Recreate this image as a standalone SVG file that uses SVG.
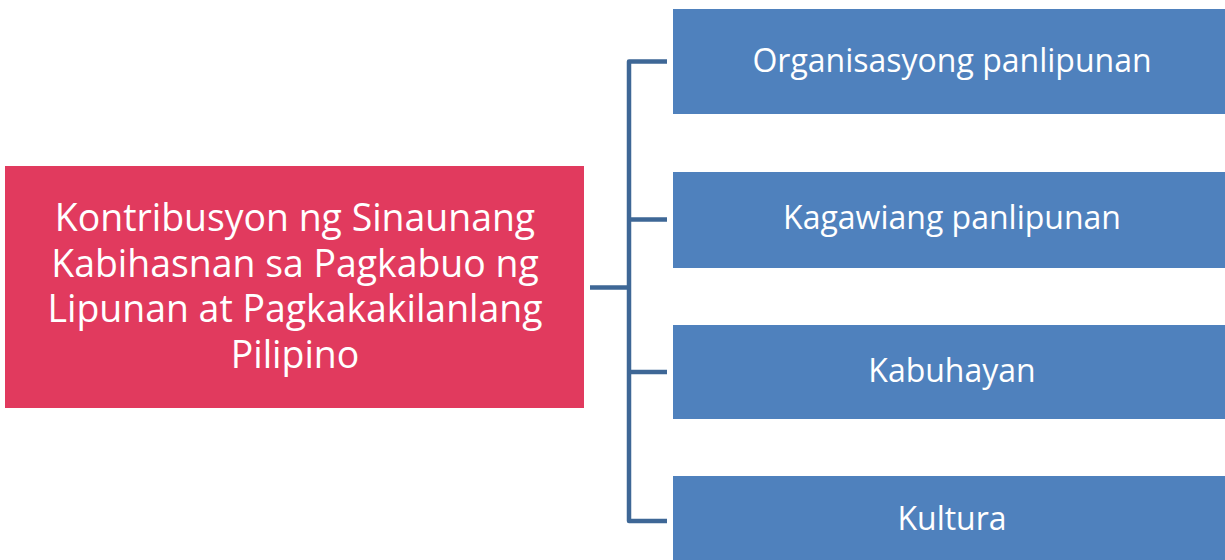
<svg xmlns="http://www.w3.org/2000/svg" width="1225" height="560" viewBox="0 0 1225 560">
<style>
.main{fill:#E13A5E}
.sub{fill:#4F81BD}
.t{font-family:"Open Sans","Noto Sans",sans-serif;fill:#FFFFFF;text-anchor:middle}
.tm{font-size:37.4px}
.ts{font-size:32px}
.conn{fill:none;stroke:#3E6796;stroke-width:4.5;stroke-linejoin:round;stroke-linecap:butt}
</style>
<rect width="1225" height="560" fill="#FFFFFF"/>
<g id="connectors">
<path class="conn" d="M667,61.5 H629 V521 H667"/>
<path class="conn" d="M629,219.5 H667"/>
<path class="conn" d="M629,372 H667"/>
<path class="conn" d="M590,287.5 H629"/>
</g>
<g id="node-main">
<rect class="main" x="5" y="166" width="579" height="242"/>
<text class="t tm" x="295" y="231">Kontribusyon ng Sinaunang</text>
<text class="t tm" x="295" y="277">Kabihasnan sa Pagkabuo ng</text>
<text class="t tm" x="295" y="322">Lipunan at Pagkakakilanlang</text>
<text class="t tm" x="295" y="368">Pilipino</text>
</g>
<g id="node-1">
<rect class="sub" x="673" y="9" width="552" height="105"/>
<text class="t ts" x="952" y="72">Organisasyong panlipunan</text>
</g>
<g id="node-2">
<rect class="sub" x="673" y="172" width="552" height="96"/>
<text class="t ts" x="952" y="229">Kagawiang panlipunan</text>
</g>
<g id="node-3">
<rect class="sub" x="673" y="325" width="552" height="94"/>
<text class="t ts" x="952" y="382">Kabuhayan</text>
</g>
<g id="node-4">
<rect class="sub" x="673" y="476" width="552" height="84"/>
<text class="t ts" x="952" y="530">Kultura</text>
</g>
</svg>
